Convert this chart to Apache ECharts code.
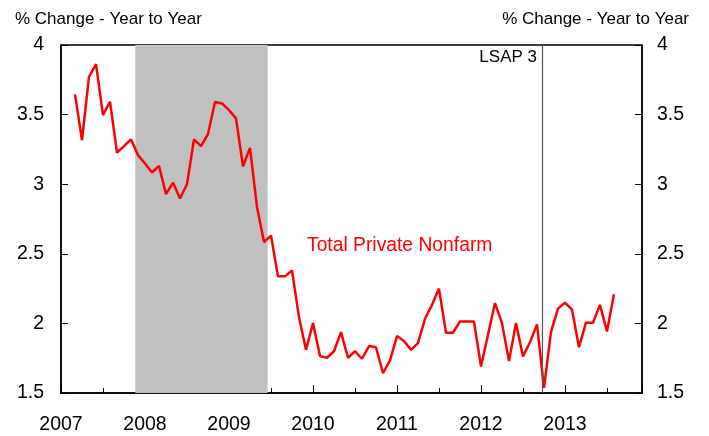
<!DOCTYPE html>
<html>
<head>
<meta charset="utf-8">
<script src="https://cdn.jsdelivr.net/npm/echarts@6/dist/echarts.min.js"></script>
<style>
  html, body { margin: 0; padding: 0; background: #fff; }
  #chart { width: 709px; height: 436px; }
</style>
</head>
<body>
<div id="chart"></div>
<script>
// monthly readings, first one is March 2007 (month index 2 from Jan 2007)
const startYear = 2007;
const firstMonth = 2;
const values = [
  3.645, 3.317, 3.772, 3.863, 3.496, 3.592, 3.228, 3.273, 3.322, 3.209,
  3.149, 3.084, 3.132, 2.928, 3.012, 2.897, 3.0, 3.322, 3.273, 3.36,
  3.59, 3.58, 3.532, 3.473, 3.129, 3.261, 2.837, 2.585, 2.631, 2.338,
  2.338, 2.381, 2.045, 1.81, 2.002, 1.765, 1.753, 1.8, 1.937, 1.753,
  1.8, 1.746, 1.837, 1.829, 1.642, 1.734, 1.909, 1.874, 1.81, 1.859,
  2.033, 2.133, 2.25, 1.933, 1.933, 2.014, 2.014, 2.014, 1.69, 1.919,
  2.146, 2.002, 1.729, 2.002, 1.763, 1.865, 1.993, 1.537, 1.937, 2.106,
  2.149, 2.099, 1.829, 2.005, 2.005, 2.133, 1.942, 2.209
];
const yearTicks = [2007, 2008, 2009, 2010, 2011, 2012, 2013];
const yTicks = [1.5, 2, 2.5, 3, 3.5, 4];
const recession = [2007.885, 2009.46];
const lsap3 = 2012.73;

const font = "Liberation Sans, Arial, sans-serif";
const points = values.map((v, i) => [startYear + (firstMonth + i) / 12, v]);

const chart = echarts.init(document.getElementById("chart"));

const yAxisBase = {
  type: "value",
  min: yTicks[0],
  max: yTicks[yTicks.length - 1],
  interval: 0.5,
  axisLine: { show: true, lineStyle: { color: "#000", width: 1.5 } },
  axisTick: { show: true, inside: true, length: 7, lineStyle: { color: "#000" } },
  splitLine: { show: false },
};

chart.setOption({
  animation: false,
  textStyle: { fontFamily: font },
  title: [
    {
      text: "% Change - Year to Year",
      left: 10, top: 6,
      textStyle: { fontSize: 17, fontWeight: "normal", color: "#000", fontFamily: font },
    },
    {
      text: "% Change - Year to Year",
      right: 15, top: 6,
      textStyle: { fontSize: 17, fontWeight: "normal", color: "#000", fontFamily: font },
    },
  ],
  grid: {
    left: 61, right: 67, top: 45, bottom: 43,
    show: true, borderColor: "#000", borderWidth: 1.5,
  },
  xAxis: {
    type: "value",
    min: startYear,
    max: 2013.917,
    interval: 1,
    axisLine: { show: true, lineStyle: { color: "#000", width: 1.5 } },
    axisTick: { show: true, inside: true, length: 8, lineStyle: { color: "#000" } },
    minorTick: { show: true, splitNumber: 2, length: 5, lineStyle: { color: "#000" } },
    splitLine: { show: false },
    axisLabel: {
      margin: 22,
      fontSize: 19.5,
      color: "#000",
      fontFamily: font,
      showMaxLabel: false,
      formatter: (v) => (yearTicks.includes(Math.round(v * 1000) / 1000) ? String(v) : ""),
    },
  },
  yAxis: [
    Object.assign({}, yAxisBase, {
      position: "left",
      axisLabel: { margin: 17, fontSize: 19.5, color: "#000", fontFamily: font },
    }),
    Object.assign({}, yAxisBase, {
      position: "right",
      axisLabel: { margin: 15, fontSize: 19.5, color: "#000", fontFamily: font },
    }),
  ],
  graphic: [
    {
      type: "text",
      left: 307, top: 236,
      style: { text: "Total Private Nonfarm", fill: "#ff0000", font: "19.3px " + font },
    },
    {
      type: "text",
      right: 709 - 537, top: 49,
      style: { text: "LSAP 3", fill: "#000", font: "17px " + font },
    },
  ],
  series: [
    {
      name: "Total Private Nonfarm",
      type: "line",
      data: points,
      showSymbol: false,
      lineStyle: { color: "#ff0000", width: 2.5 },
      z: 3,
      markArea: {
        silent: true,
        itemStyle: { color: "#c0c0c0" },
        data: [[{ xAxis: recession[0] }, { xAxis: recession[1] }]],
      },
      markLine: {
        silent: true,
        symbol: "none",
        label: { show: false },
        lineStyle: { color: "#555", width: 1.2, type: "solid" },
        data: [{ xAxis: lsap3 }],
      },
    },
  ],
});
</script>
</body>
</html>
